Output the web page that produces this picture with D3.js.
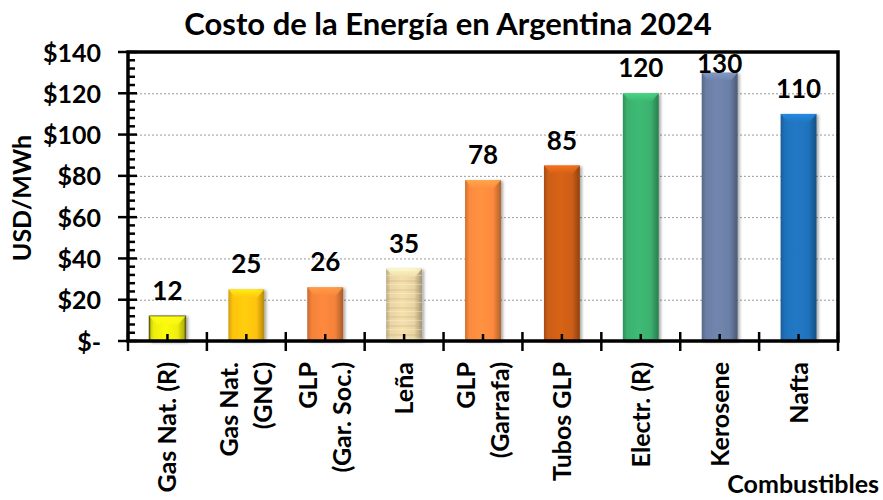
<!DOCTYPE html>
<html>
<head>
<meta charset="utf-8">
<script src="https://cdn.jsdelivr.net/npm/d3@7"></script>
<style>
  html, body { margin: 0; padding: 0; background: #fff; }
  svg { display: block; }
  text { font-family: Lato, "Open Sans", sans-serif; font-weight: 700; fill: #000; }
</style>
</head>
<body>
<svg id="chart" width="883" height="500"></svg>
<script>
// Costo de la energía por combustible (USD/MWh)
const categories = [
  ["Gas Nat. (R)"],
  ["Gas Nat.", "(GNC)"],
  ["GLP", "(Gar. Soc.)"],
  ["Leña"],
  ["GLP", "(Garrafa)"],
  ["Tubos GLP"],
  ["Electr. (R)"],
  ["Kerosene"],
  ["Nafta"]
];
const values = [12, 25, 26, 35, 78, 85, 120, 130, 110];
const yTickValues = [0, 20, 40, 60, 80, 100, 120, 140];
const yTickLabels = ["$-", "$20", "$40", "$60", "$80", "$100", "$120", "$140"];
const barPalette = ["#eeee10", "#ffc30f", "#f3823a", "#e8d4a4", "#fd8a3e", "#cd5e16", "#3bb16e", "#6b7fa6", "#1f72bb"];

const titleText = "Costo de la Energía en Argentina 2024";
const yTitle = "USD/MWh";
const xTitle = "Combustibles";

const svg = d3.select("#chart");
const plot = { left: 128, right: 838, top: 52, bottom: 341 };

const x = d3.scaleBand()
  .domain(d3.range(categories.length))
  .range([plot.left, plot.right])
  .paddingInner(0.545)
  .paddingOuter(0.2725);

const y = d3.scaleLinear().domain([0, 140]).range([plot.bottom, plot.top]);

const defs = svg.append("defs");

// soft drop shadow under the bars
const sh = defs.append("filter").attr("id", "shadow")
  .attr("x", "-30%").attr("y", "-10%").attr("width", "160%").attr("height", "130%");
sh.append("feDropShadow").attr("dx", 2).attr("dy", 1).attr("stdDeviation", 1.6)
  .attr("flood-color", "#000").attr("flood-opacity", 0.35);

// bevelled fill for each bar
barPalette.forEach((c, i) => {
  const base = d3.color(c);
  const g = defs.append("linearGradient").attr("id", "bar" + i)
    .attr("x1", "0%").attr("x2", "100%").attr("y1", "0%").attr("y2", "0%");
  [[0, base.darker(0.6)], [0.12, base], [0.45, base.brighter(0.15)], [0.78, base], [1, base.darker(1.0)]]
    .forEach(([o, col]) => g.append("stop").attr("offset", o).attr("stop-color", col.formatHex()));
  const t = defs.append("linearGradient").attr("id", "top" + i)
    .attr("x1", "0%").attr("x2", "0%").attr("y1", "0%").attr("y2", "100%");
  t.append("stop").attr("offset", 0).attr("stop-color", base.brighter(0.6).formatHex());
  t.append("stop").attr("offset", 1).attr("stop-color", base.brighter(0.1).formatHex());
});

// wood grain for the firewood bar
const wood = defs.append("pattern").attr("id", "grain")
  .attr("patternUnits", "userSpaceOnUse").attr("width", 40).attr("height", 9);
wood.append("rect").attr("width", 40).attr("height", 2).attr("y", 1).attr("fill", "#b89a5e").attr("opacity", 0.18);
wood.append("rect").attr("width", 40).attr("height", 1).attr("y", 5).attr("fill", "#fff6dc").attr("opacity", 0.35);

// gridlines
svg.append("g")
  .selectAll("line")
  .data(yTickValues.filter(v => v > 0 && v < 140))
  .join("line")
  .attr("x1", plot.left).attr("x2", plot.right)
  .attr("y1", d => y(d) + 0.5).attr("y2", d => y(d) + 0.5)
  .attr("stroke", "#9a9a9a").attr("stroke-width", 1).attr("stroke-dasharray", "2,2");

// bars
const bars = svg.append("g").selectAll("g").data(values).join("g");
bars.each(function (v, i) {
  const g = d3.select(this);
  const bx = x(i), bw = x.bandwidth(), by = y(v), bh = y(0) - y(v);
  g.append("rect")
    .attr("x", bx).attr("y", by).attr("width", bw).attr("height", bh)
    .attr("fill", `url(#bar${i})`)
    .attr("filter", "url(#shadow)")
    .attr("stroke", i === 0 ? "#5e5e12" : "none")
    .attr("stroke-width", i === 0 ? 1.5 : 0);
  if (i === 3) {
    g.append("rect").attr("x", bx).attr("y", by).attr("width", bw).attr("height", bh)
      .attr("fill", "url(#grain)");
  }
  const bev = Math.min(8, bh / 2);
  g.append("path")
    .attr("d", `M${bx},${by} L${bx + bw},${by} L${bx + bw - 7},${by + bev} L${bx + 7},${by + bev} Z`)
    .attr("fill", `url(#top${i})`).attr("opacity", 0.85);
});

// value labels (kept inside the plot frame)
svg.append("g").selectAll("text").data(values).join("text")
  .attr("x", (d, i) => x(i) + x.bandwidth() / 2)
  .attr("y", d => Math.max(y(d) - 16, 73))
  .attr("text-anchor", "middle")
  .attr("font-size", 26)
  .text(d => d);

// y axis
const yAxis = d3.axisLeft(y).tickValues(yTickValues)
  .tickFormat((d, i) => yTickLabels[i]).tickSize(0).tickPadding(27);
const ya = svg.append("g").attr("transform", `translate(${plot.left},0)`).call(yAxis);
ya.select(".domain").remove();
ya.selectAll("text").attr("font-size", 25).attr("font-family", "Lato, sans-serif").attr("font-weight", 700).attr("dy", "0.36em");

// minor ticks (inside) every 4 units
const minor = d3.range(0, 141, 4).filter(v => v % 20 !== 0);
svg.append("g").selectAll("line").data(minor).join("line")
  .attr("x1", plot.left).attr("x2", plot.left + 7)
  .attr("y1", d => y(d)).attr("y2", d => y(d))
  .attr("stroke", "#000").attr("stroke-width", 2.5);
// major ticks crossing the axis
svg.append("g").selectAll("line").data(yTickValues).join("line")
  .attr("x1", plot.left - 10).attr("x2", plot.left + 9)
  .attr("y1", d => y(d)).attr("y2", d => y(d))
  .attr("stroke", "#000").attr("stroke-width", 2.5);

// x axis ticks: crossing at category boundaries, inside at centres
const bounds = d3.range(categories.length + 1).map(i => plot.left + i * (plot.right - plot.left) / categories.length);
svg.append("g").selectAll("line").data(bounds).join("line")
  .attr("x1", d => d).attr("x2", d => d)
  .attr("y1", plot.bottom - 9).attr("y2", plot.bottom + 10)
  .attr("stroke", "#000").attr("stroke-width", 2.5);
svg.append("g").selectAll("line").data(values).join("line")
  .attr("x1", (d, i) => x(i) + x.bandwidth() / 2).attr("x2", (d, i) => x(i) + x.bandwidth() / 2)
  .attr("y1", plot.bottom - 7).attr("y2", plot.bottom)
  .attr("stroke", "#000").attr("stroke-width", 2.5);

// plot frame
svg.append("path")
  .attr("d", `M${plot.left},${plot.bottom} L${plot.left},${plot.top} L${plot.right},${plot.top} L${plot.right},${plot.bottom} Z`)
  .attr("fill", "none").attr("stroke", "#000").attr("stroke-width", 3.5);

// category labels, rotated
const lineGap = 34;
const cat = svg.append("g").selectAll("g").data(categories).join("g")
  .attr("transform", (d, i) => `translate(${x(i) + x.bandwidth() / 2},362) rotate(-90)`);
cat.each(function (lines) {
  const g = d3.select(this);
  const n = lines.length;
  lines.forEach((ln, k) => {
    g.append("text")
      .attr("x", 0)
      .attr("y", (k - (n - 1) / 2) * lineGap)
      .attr("dy", "0.36em")
      .attr("text-anchor", "end")
      .attr("font-size", 25)
      .text(ln);
  });
});

// titles
svg.append("text").attr("x", 448).attr("y", 35).attr("text-anchor", "middle")
  .attr("font-size", 31).text(titleText);
svg.append("text").attr("transform", "translate(31,198) rotate(-90)")
  .attr("text-anchor", "middle").attr("font-size", 25).text(yTitle);
svg.append("text").attr("x", 879).attr("y", 493).attr("text-anchor", "end")
  .attr("font-size", 25).text(xTitle);
</script>
</body>
</html>
